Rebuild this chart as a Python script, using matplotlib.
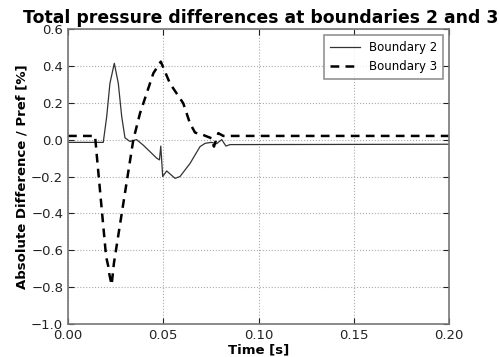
import matplotlib
matplotlib.use("Agg")
import matplotlib.pyplot as plt

t2 = [0.0, 0.0185, 0.0203, 0.0220, 0.0243, 0.0264, 0.0282, 0.0299, 0.0325, 0.0360,
      0.0395, 0.0465, 0.0480, 0.0487, 0.0497, 0.0518, 0.0562, 0.0588, 0.0640, 0.0693,
      0.0720, 0.0752, 0.0780, 0.0807, 0.0829, 0.0850, 0.2]
v2 = [-0.015, -0.015, 0.124, 0.305, 0.414, 0.305, 0.124, 0.010, -0.010, 0.0,
      -0.03, -0.10, -0.11, -0.035, -0.20, -0.17, -0.21, -0.20, -0.13, -0.038,
      -0.02, -0.015, -0.022, 0.0, -0.035, -0.027, -0.025]

t3 = [0.0, 0.0142, 0.0150, 0.0200, 0.0212, 0.0217, 0.0229, 0.0241, 0.0343, 0.0378,
      0.0448, 0.0487, 0.0535, 0.0605, 0.0640, 0.0667, 0.0710, 0.0754, 0.0766, 0.0789,
      0.0815, 0.2]
v3 = [0.02, 0.02, -0.074, -0.635, -0.69, -0.73, -0.788, -0.67, 0.0, 0.143,
      0.36, 0.423, 0.305, 0.197, 0.089, 0.038, 0.025, 0.007, -0.038, 0.035,
      0.02, 0.02]

xticks = [0.00, 0.05, 0.10, 0.15, 0.20]
yticks = [-1.0, -0.8, -0.6, -0.4, -0.2, 0.0, 0.2, 0.4, 0.6]

fig = plt.figure(figsize=(4.99, 3.57), dpi=100)
ax = fig.add_axes([0.1363, 0.0924, 0.7635, 0.8264])
ax.plot(t2, v2, color="#333333", lw=0.9, label="Boundary 2")
ax.plot(t3, v3, color="black", lw=1.8, ls=(0, (3.5, 2.5)), label="Boundary 3")
ax.set_xlim(0, 0.2)
ax.set_ylim(-1.0, 0.6)
ax.set_xticks(xticks)
ax.set_yticks(yticks)
ax.set_xticklabels(["%.2f" % x for x in xticks])
ax.set_yticklabels(["\u2212%.1f" % abs(y) if y < 0 else "%.1f" % y for y in yticks])
ax.tick_params(direction="in", labelsize=9.5, length=4, top=True, right=True, colors="#222222")
ax.grid(True, ls=":", color="#aaaaaa", lw=0.8)
for s in ax.spines.values():
    s.set_color("#777777")
    s.set_linewidth(1.2)
ax.set_xlabel("Time [s]", fontsize=9.5, fontweight="bold", labelpad=1)
ax.set_ylabel("Absolute Difference / Pref [%]", fontsize=9.5, fontweight="bold", labelpad=2)
ax.set_title("Total pressure differences at boundaries 2 and 3", fontsize=12.4, fontweight="bold", pad=4, x=0.507)
leg = ax.legend(loc="upper right", fontsize=8.5, fancybox=False, handlelength=2.5, borderpad=0.5)
leg.get_frame().set_edgecolor("#777777")
leg.get_frame().set_linewidth(1.2)
fig.savefig("out.png", dpi=100)
